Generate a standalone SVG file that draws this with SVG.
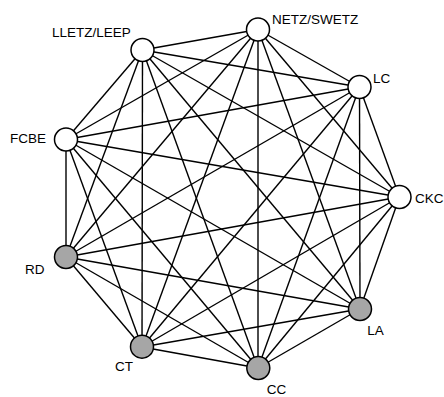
<svg xmlns="http://www.w3.org/2000/svg" width="444" height="397" viewBox="0 0 444 397">
<style>
.e{stroke:#000;stroke-width:1.4;fill:none}
.n{stroke:#000;stroke-width:1.5}
.w{fill:#fff}
.g{fill:#a6a6a6}
text{font-family:"Liberation Sans",Arial,sans-serif;font-size:13.5px;fill:#000}
</style>
<rect width="444" height="397" fill="#fff"/>
<g id="edges" class="e">
<!-- NETZ -->
<line x1="258" y1="29.5" x2="142.5" y2="50"/>
<line x1="258" y1="29.5" x2="359.5" y2="87"/>
<line x1="258" y1="29.5" x2="66" y2="139.5"/>
<line x1="258" y1="29.5" x2="399.5" y2="197"/>
<line x1="258" y1="29.5" x2="66" y2="257"/>
<line x1="258" y1="29.5" x2="360" y2="309"/>
<line x1="258" y1="29.5" x2="142" y2="347"/>
<line x1="258" y1="29.5" x2="258" y2="368"/>
<!-- LLETZ -->
<line x1="142.5" y1="50" x2="359.5" y2="87"/>
<line x1="142.5" y1="50" x2="66" y2="139.5"/>
<line x1="142.5" y1="50" x2="399.5" y2="197"/>
<line x1="142.5" y1="50" x2="66" y2="257"/>
<line x1="142.5" y1="50" x2="360" y2="309"/>
<line x1="142.5" y1="50" x2="142" y2="347"/>
<line x1="142.5" y1="50" x2="258" y2="368"/>
<!-- LC -->
<line x1="359.5" y1="87" x2="66" y2="139.5"/>
<line x1="359.5" y1="87" x2="399.5" y2="197"/>
<line x1="359.5" y1="87" x2="66" y2="257"/>
<line x1="359.5" y1="87" x2="360" y2="309"/>
<line x1="359.5" y1="87" x2="142" y2="347"/>
<line x1="359.5" y1="87" x2="258" y2="368"/>
<!-- FCBE -->
<line x1="66" y1="139.5" x2="399.5" y2="197"/>
<line x1="66" y1="139.5" x2="66" y2="257"/>
<line x1="66" y1="139.5" x2="360" y2="309"/>
<line x1="66" y1="139.5" x2="142" y2="347"/>
<line x1="66" y1="139.5" x2="258" y2="368"/>
<!-- CKC -->
<line x1="399.5" y1="197" x2="66" y2="257"/>
<line x1="399.5" y1="197" x2="360" y2="309"/>
<line x1="399.5" y1="197" x2="142" y2="347"/>
<line x1="399.5" y1="197" x2="258" y2="368"/>
<!-- RD -->
<line x1="66" y1="257" x2="360" y2="309"/>
<line x1="66" y1="257" x2="142" y2="347"/>
<line x1="66" y1="257" x2="258" y2="368"/>
<!-- LA -->
<line x1="360" y1="309" x2="142" y2="347"/>
<line x1="360" y1="309" x2="258" y2="368"/>
<!-- CT -->
<line x1="142" y1="347" x2="258" y2="368"/>
</g>
<g id="node-netz"><circle class="n w" cx="258" cy="29.5" r="11.5"/><text x="272" y="24">NETZ/SWETZ</text></g>
<g id="node-lletz"><circle class="n w" cx="142.5" cy="50" r="11.5"/><text x="52" y="37.3">LLETZ/LEEP</text></g>
<g id="node-lc"><circle class="n w" cx="359.5" cy="87" r="11.5"/><text x="373" y="82.7">LC</text></g>
<g id="node-fcbe"><circle class="n w" cx="66" cy="139.5" r="11.5"/><text x="10" y="143.3">FCBE</text></g>
<g id="node-ckc"><circle class="n w" cx="399.5" cy="197" r="11.5"/><text x="415" y="203.3">CKC</text></g>
<g id="node-rd"><circle class="n g" cx="66" cy="257" r="11.5"/><text x="25" y="274">RD</text></g>
<g id="node-la"><circle class="n g" cx="360" cy="309" r="11.5"/><text x="367.3" y="335">LA</text></g>
<g id="node-ct"><circle class="n g" cx="142" cy="346.7" r="11.5"/><text x="115" y="370.7">CT</text></g>
<g id="node-cc"><circle class="n g" cx="258.3" cy="368" r="11.5"/><text x="266.7" y="394">CC</text></g>
</svg>
